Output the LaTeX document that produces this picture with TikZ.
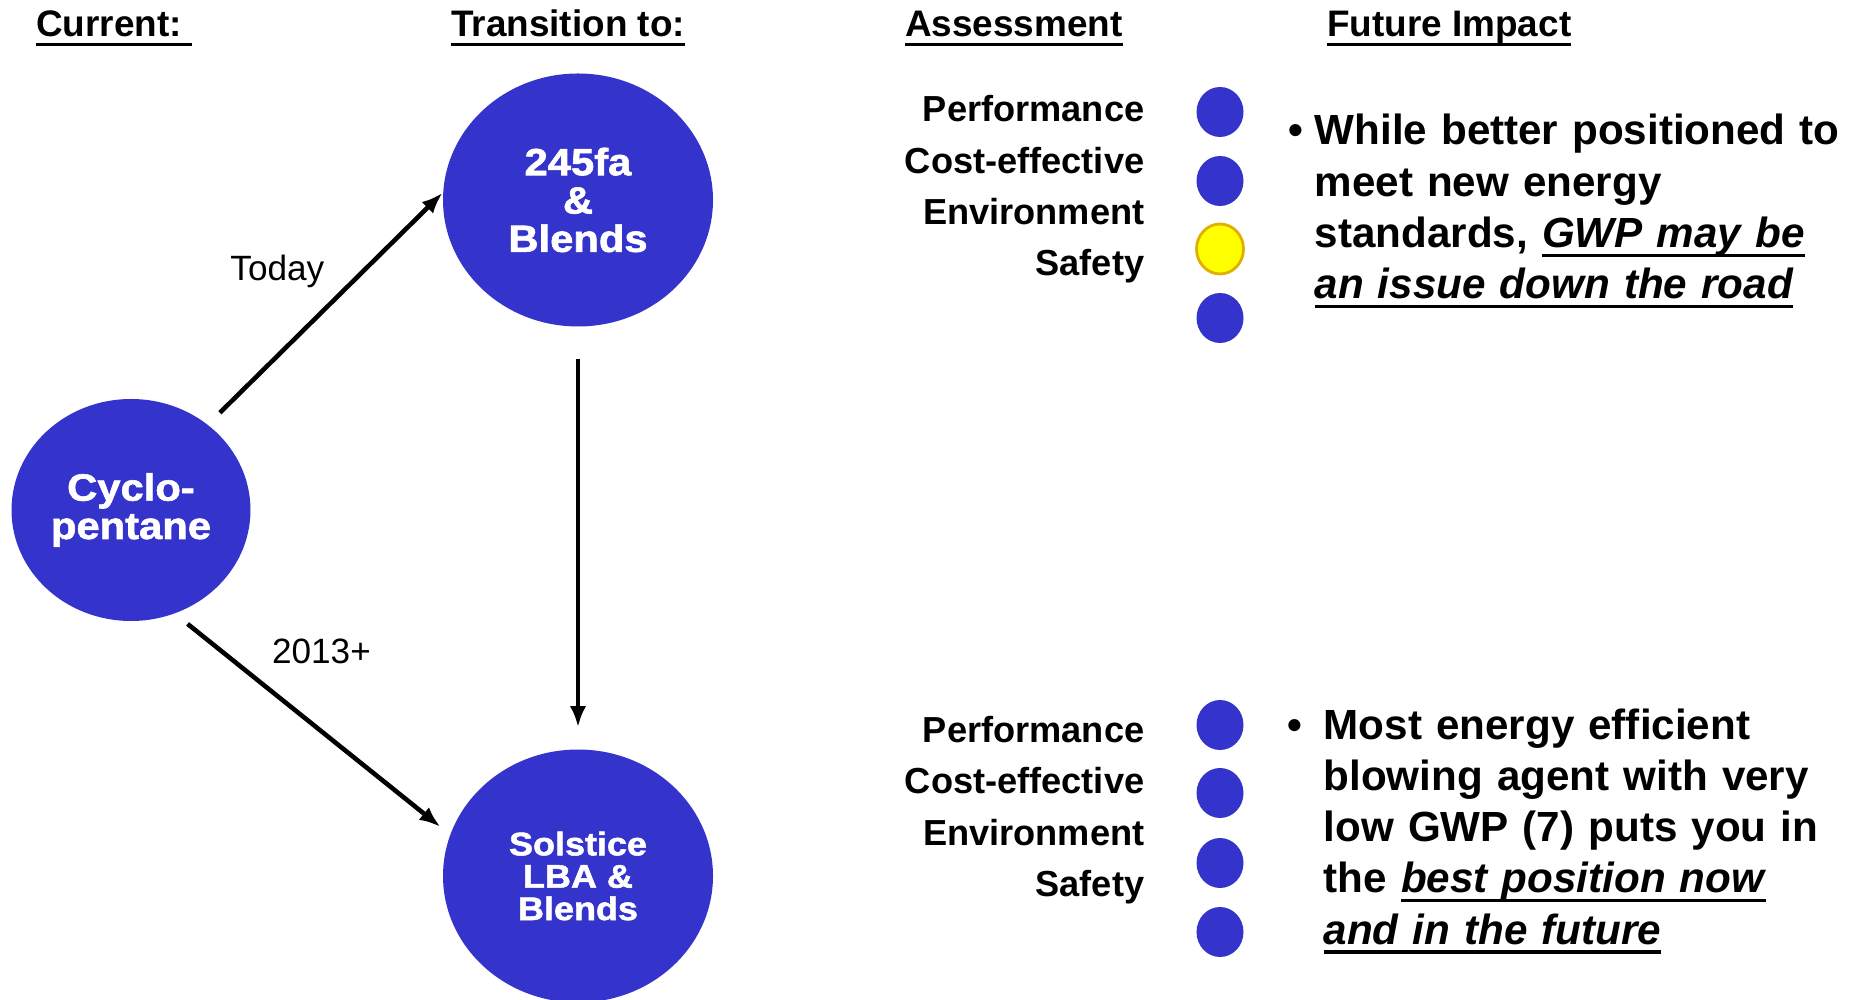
\documentclass[tikz,border=0pt]{standalone}
\usepackage{fontspec}
\setmainfont{Liberation Sans}
\newfontfamily\heavyfont[FakeBold=1.6,FakeStretch=1.1]{Liberation Sans Bold}
\usetikzlibrary{arrows.meta,shapes.geometric}

\definecolor{blob}{RGB}{52,52,204}
\definecolor{warnfill}{RGB}{255,255,0}
\definecolor{warnline}{RGB}{225,175,0}

% underline at a fixed depth below the baseline
\newsavebox\undrbox
\newcommand\undr[1]{\leavevmode\sbox\undrbox{#1}\rlap{\rule[-2.7pt]{\wd\undrbox}{1pt}}\usebox\undrbox}

\tikzset{
  agent/.style={ellipse, fill=blob, text=white, inner sep=0pt, align=center,
    font={\heavyfont\fontsize{10.8}{10.9}\selectfont}},
  dot/.style={ellipse, fill=blob, inner sep=0pt, minimum width=0.47cm, minimum height=0.50cm},
  head/.style={anchor=base west, inner sep=0pt, font=\bfseries\fontsize{10.5}{12}\selectfont},
  crit/.style={anchor=base east, inner sep=0pt, font=\bfseries\fontsize{10.3}{12}\selectfont},
  bul/.style={anchor=base west, inner sep=0pt, align=left, text width=6cm,
    font=\bfseries\fontsize{12}{14.6}\selectfont},
  arr/.style={-{Latex[length=6pt,width=4.6pt]}, line width=1.3pt},
}

\begin{document}
\begin{tikzpicture}
\useasboundingbox (0,0) rectangle (18.54,-10);

% column headings
\node[head] (hcur) at (0.355,-0.37) {\undr{Current:\ }};
\node[head] (htr) at (4.505,-0.37) {\undr{Transition to:}};
\node[head] (hass) at (9.045,-0.37) {\undr{Assessment}};
\node[head] (hfut) at (13.266,-0.37) {\undr{Future Impact}};

% blowing agents
\node[agent, minimum width=2.39cm, minimum height=2.22cm] (cyc) at (1.31,-5.10) {Cyclo-\\pentane};
\node[agent, minimum width=2.70cm, minimum height=2.53cm] (fa) at (5.78,-2.00) {245fa\\\&\\Blends};
\node[agent, minimum width=2.70cm, minimum height=2.53cm,
  font={\heavyfont\fontsize{9.3}{9.2}\selectfont}] (sol) at (5.78,-8.76) {Solstice\\LBA \&\\Blends};

\path[arr] (cyc.48) edge[shorten <=0.165cm] node[xshift=-0.48cm, yshift=0.37cm] (ltoday) {Today} (fa.177);
\path[arr] (cyc.-67) edge[shorten <=0.16cm, shorten >=0.12cm] node[xshift=0.09cm, yshift=0.73cm] (lyear) {2013+} (sol.162);
\path[arr] (fa) edge[shorten <=0.32cm, shorten >=0.215cm] (sol);

% assessment, top row
\foreach \t/\y [count=\i] in {Performance/1.22, Cost-effective/1.732, Environment/2.244, Safety/2.756}
  \node[crit] (ta\i) at (11.45,-\y) {\t};
\foreach \y/\c [count=\i] in {1.12/blob, 1.81/blob, 2.49/warnfill, 3.18/blob}
  \node[dot, fill=\c] (td\i) at (12.20,-\y) {};
\draw[warnline, line width=0.8pt] (td3.center) ellipse (0.235cm and 0.25cm);

% assessment, bottom row
\foreach \t/\y [count=\i] in {Performance/7.425, Cost-effective/7.934, Environment/8.454, Safety/8.963}
  \node[crit] (ba\i) at (11.45,-\y) {\t};
\foreach \y [count=\i] in {7.25, 7.93, 8.63, 9.32}
  \node[dot] (bd\i) at (12.20,-\y) {};

% future impact
\node[bul] (imp1) at (13.14,-1.45) {\llap{\textbullet\hspace{3.4pt}}While better positioned to\\
  meet new energy\\
  standards, \undr{\textit{GWP may be}}\\
  \undr{\textit{an issue down the road}}};
\node[bul] (imp2) at (13.23,-7.39) {\llap{\textbullet\hspace{6pt}}Most energy efficient\\
  blowing agent with very\\
  low GWP (7) puts you in\\
  the \undr{\textit{best position now}}\\
  \undr{\textit{and in the future}}};
\end{tikzpicture}
\end{document}
